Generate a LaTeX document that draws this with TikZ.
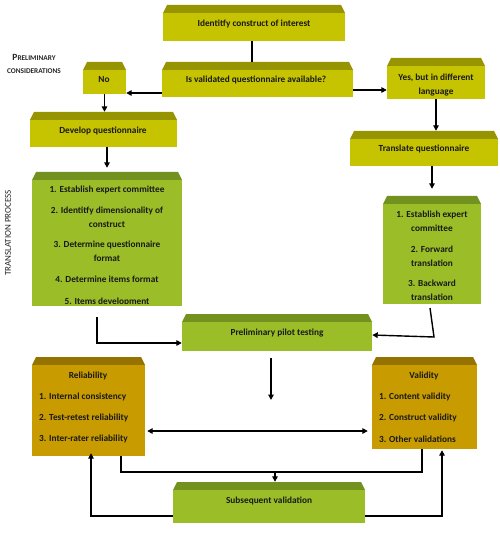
\documentclass[tikz,border=0pt]{standalone}
\usepackage{fontspec}
\setmainfont{Carlito}
\usetikzlibrary{arrows.meta,fit}
\definecolor{yface}{RGB}{198,195,0}
\definecolor{ytop}{RGB}{150,148,0}
\definecolor{gface}{RGB}{155,190,40}
\definecolor{gtop}{RGB}{115,145,30}
\definecolor{oface}{RGB}{200,155,0}
\definecolor{otop}{RGB}{150,115,0}
\newcommand\bevbox[7]{%
  \fill[#7] (#2,#3+8) -- (#2+4,#3) -- (#4-4,#3) -- (#4,#3+8) -- cycle;
  \fill[#6] (#2,#3+8) rectangle (#4,#5);
  \node[fit={(#2,#3) (#4,#5)}, inner sep=0pt] (#1) {};
}
\begin{document}
\begin{tikzpicture}[x=1pt,y=-1pt,
  txt/.style={font=\bfseries\fontsize{9.3}{14}\selectfont, inner sep=0pt, align=center, text=black!90},
  ltxt/.style={txt, anchor=west, align=left},
  conn/.style={line width=1.4pt},
  arr/.style={conn, -{Triangle[length=5.5pt,width=5.5pt]}},
  arrb/.style={conn, {Triangle[length=5.5pt,width=5.5pt]}-{Triangle[length=5.5pt,width=5.5pt]}}]
\useasboundingbox (0,0) rectangle (499,534);

% boxes
\bevbox{identify}{163}{5}{345}{41}{yface}{ytop}
\bevbox{isval}{162}{62}{353}{97}{yface}{ytop}
\bevbox{no}{83}{62}{126}{94}{yface}{ytop}
\bevbox{yes}{387}{58}{485}{99}{yface}{ytop}
\bevbox{develop}{30}{112}{177}{147}{yface}{ytop}
\bevbox{translate}{350}{131}{498}{166}{yface}{ytop}
\bevbox{list1}{32}{172}{182}{306}{gface}{gtop}
\bevbox{list2}{383}{196}{481}{304}{gface}{gtop}
\bevbox{pilot}{182}{314}{372}{351}{gface}{gtop}
\bevbox{rel}{32}{357}{145}{456}{oface}{otop}
\bevbox{val}{372}{357}{477}{449}{oface}{otop}
\bevbox{sub}{173}{482}{365}{523}{gface}{gtop}

% side labels
\node[inner sep=0pt, font=\bfseries, text=black!85] (prelim1) at (34,57) {\fontsize{9.5}{10}\selectfont P\fontsize{7.3}{8}\selectfont RELIMINARY};
\node[inner sep=0pt, font=\bfseries, text=black!85] (prelim2) at (34,71) {\fontsize{7.3}{8}\selectfont CONSIDERATIONS};
\node[inner sep=0pt, rotate=90, font=\fontsize{9}{10}\selectfont, text=black!85] (transproc) at (8,233) {TRANSLATION PROCESS};

% texts
\node[txt] (t-identify) at (254,24) {Identitfy construct of interest};
\node[txt] (t-isval) at (256,80) {Is validated questionnaire available?};
\node[txt] (t-no) at (104,80) {No};
\node[txt] (t-yes) at (436,85) {Yes, but in different\\language};
\node[txt] (t-develop) at (103,131) {Develop questionnaire};
\node[txt] (t-translate) at (424,149) {Translate questionnaire};

\node[txt] (a1) at (107,190) {1. Establish expert committee};
\node[txt] (a2) at (107,217) {2. Identitfy dimensionality of\\construct};
\node[txt] (a3) at (107,251.5) {3. Determine questionnaire\\format};
\node[txt] (a4) at (107,279) {4. Determine items format};
\begin{scope}
\clip (32,180) rectangle (182,303.5);
\node[txt] (a5) at (107,301.5) {5. Items development};
\end{scope}

\node[txt] (b1) at (432,221.5) {1. Establish expert\\committee};
\node[txt] (b2) at (432,256) {2. Forward\\translation};
\node[txt] (b3) at (432,290) {3. Backward\\translation};

\node[txt] (t-pilot) at (277,333) {Preliminary pilot testing};

\node[txt] (t-rel) at (88,376) {Reliability};
\node[ltxt] (r1) at (39,397) {1. Internal consistency};
\node[ltxt] (r2) at (39,418) {2. Test-retest reliability};
\node[ltxt] (r3) at (39,439) {3. Inter-rater reliability};

\node[txt] (t-val) at (424,376) {Validity};
\node[ltxt] (v1) at (379,397) {1. Content validity};
\node[ltxt] (v2) at (379,418) {2. Construct validity};
\node[ltxt] (v3) at (379,439) {3. Other validations};

\node[txt] (t-sub) at (269,501) {Subsequent validation};

% connectors
\draw[conn] (identify.south -| 252,0) -- (isval.north -| 252,0);
\draw[arr] (isval.west |- 0,93) -- (no.east |- 0,93);
\draw[arr] (isval.east |- 0,90) -- (yes.west |- 0,90);
\draw[arr] (no.south) -- (no.south |- develop.north);
\draw[arr] (yes.south) -- (yes.south |- translate.north);
\draw[arr, shorten >=4pt] (list1.north |- develop.south) -- (list1.north);
\draw[arr, shorten >=7pt] (list2.north |- translate.south) -- (list2.north);
\coordinate (l1) at (97,317);
\draw[arr] (l1) |- (pilot.west |- 0,343);
\coordinate (l2a) at (430,308);
\coordinate (l2b) at (434,337);
\draw[arr] (l2a) -- (l2b) -- (pilot.east |- 0,335);
\coordinate (pd0) at (271,358);
\coordinate (pd) at (271,400);
\draw[arr] (pd0) -- (pd);
\draw[arrb] ([xshift=2pt]rel.east |- 0,431) -- ([xshift=-4pt]val.west |- 0,431);
\draw[conn] (rel.south -| 121,0) -- (121,472) -- (422,472) -- (val.south -| 422,0);
\draw[arr] (275,471.3) -- (sub.north -| 275,0);
\draw[arr] (sub.west |- 0,516) -| ([yshift=3pt]rel.south -| 91,0);
\draw[arr] (sub.east |- 0,516) -| ([yshift=-1pt]val.south -| 442,0);
\end{tikzpicture}
\end{document}
